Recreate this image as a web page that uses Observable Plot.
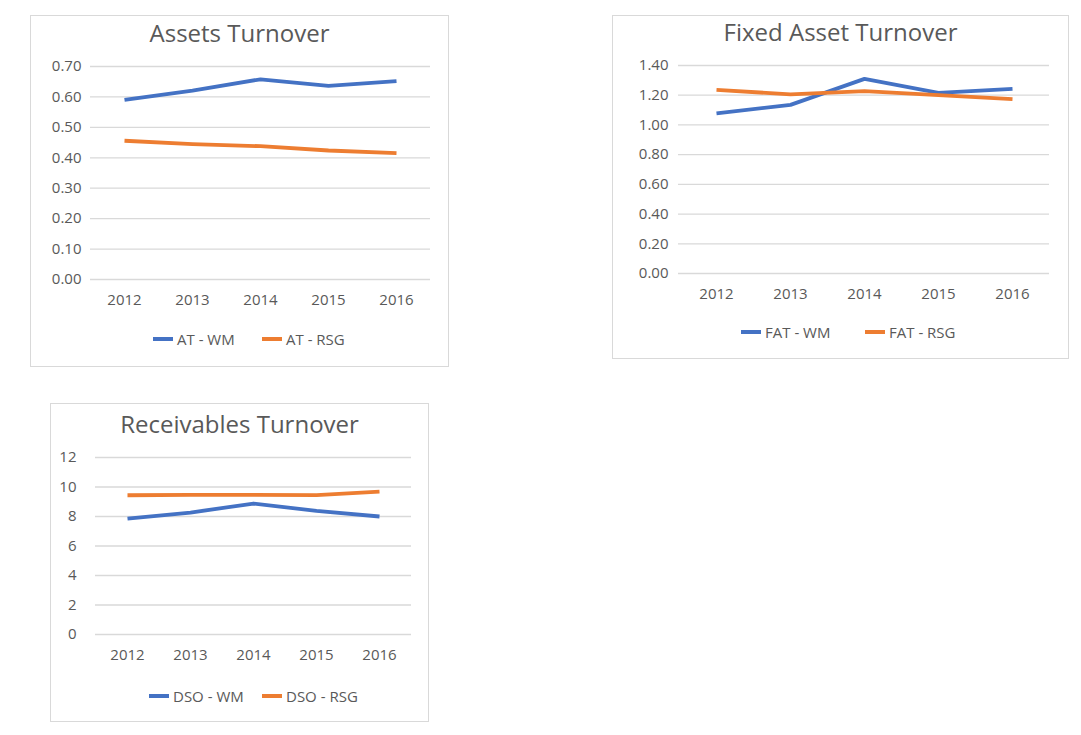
<!DOCTYPE html>
<html>
<head>
<meta charset="utf-8">
<script src="https://cdn.jsdelivr.net/npm/d3@7"></script>
<script src="https://cdn.jsdelivr.net/npm/@observablehq/plot@0.6"></script>
<style>
  html, body { margin: 0; padding: 0; background: #fff; }
  #page { position: relative; width: 1081px; height: 735px; font-family: "Open Sans", "Noto Sans", sans-serif; color: #595959; }
  .panel { position: absolute; box-sizing: border-box; border: 1px solid #d9d9d9; background: #fff; }
  .title { text-align: center; font-size: 24px; white-space: nowrap; }
  .legend { position: relative; font-size: 15px; }
  .item { position: absolute; top: 50%; transform: translateY(-50%); display: flex; align-items: center; white-space: nowrap; }
  .swatch { display: inline-block; width: 20px; height: 4px; margin-right: 4px; }
  svg { display: block; }
</style>
</head>
<body>
<div id="page"></div>
<script>
const years = ["2012", "2013", "2014", "2015", "2016"];

const atWM  = [0.590, 0.621, 0.658, 0.636, 0.652];
const atRSG = [0.456, 0.445, 0.438, 0.424, 0.415];
const atTicks = [0, 0.1, 0.2, 0.3, 0.4, 0.5, 0.6, 0.7];

const fatWM  = [1.078, 1.135, 1.310, 1.216, 1.243];
const fatRSG = [1.236, 1.206, 1.227, 1.200, 1.173];
const fatTicks = [0, 0.2, 0.4, 0.6, 0.8, 1.0, 1.2, 1.4];

const dsoWM  = [7.86, 8.27, 8.88, 8.38, 8.00];
const dsoRSG = [9.44, 9.47, 9.47, 9.45, 9.69];
const dsoTicks = [0, 2, 4, 6, 8, 10, 12];

const BLUE = "#4472C4", ORANGE = "#ED7D31";

function panel(cfg) {
  const p = document.createElement("div");
  p.className = "panel";
  Object.assign(p.style, {left: cfg.left + "px", top: cfg.top + "px", width: cfg.w + "px", height: cfg.h + "px"});

  const t = document.createElement("div");
  t.className = "title";
  t.textContent = cfg.title;
  t.style.height = cfg.titleH + "px";
  t.style.lineHeight = cfg.titleH + "px";
  p.appendChild(t);

  const rows = [];
  years.forEach((y, i) => {
    rows.push({year: y, value: cfg.wm[i], series: cfg.names[0]});
  });
  years.forEach((y, i) => {
    rows.push({year: y, value: cfg.rsg[i], series: cfg.names[1]});
  });

  const chart = Plot.plot({
    width: cfg.w - 2,
    height: cfg.svgH,
    marginLeft: cfg.ml,
    marginRight: cfg.mr,
    marginTop: cfg.mt,
    marginBottom: cfg.mb,
    style: {fontFamily: "'Open Sans', 'Noto Sans', sans-serif", fontSize: "15px", color: "#595959", background: "transparent"},
    x: {type: "point", domain: years, padding: 0.5, tickSize: 0, tickPadding: 15, label: null},
    y: {domain: cfg.domain, ticks: cfg.ticks, tickSize: 0, tickPadding: cfg.yPad, tickFormat: d3.format(cfg.fmt), label: null},
    marks: [
      Plot.ruleY(cfg.ticks, {stroke: "#d9d9d9", strokeWidth: 1.3}),
      Plot.line(rows, {x: "year", y: "value", z: "series", stroke: d => d.series === cfg.names[0] ? BLUE : ORANGE, strokeWidth: 3.8, strokeLinejoin: "round", strokeLinecap: "butt"})
    ]
  });
  p.appendChild(chart);

  const lg = document.createElement("div");
  lg.className = "legend";
  lg.style.height = cfg.legH + "px";
  cfg.names.forEach((n, k) => {
    const it = document.createElement("div");
    it.className = "item";
    it.style.left = cfg.legX[k] + "px";
    const sw = document.createElement("span");
    sw.className = "swatch";
    sw.style.background = k === 0 ? BLUE : ORANGE;
    it.appendChild(sw);
    const tx = document.createElement("span");
    tx.textContent = n;
    it.appendChild(tx);
    lg.appendChild(it);
  });
  p.appendChild(lg);
  document.getElementById("page").appendChild(p);
}

panel({left: 30, top: 15, w: 419, h: 352, title: "Assets Turnover", titleH: 34,
  svgH: 265, ml: 59, mr: 18, mt: 16, mb: 36, yPad: 9,
  domain: [0, 0.7], ticks: atTicks, fmt: ".2f",
  wm: atWM, rsg: atRSG, names: ["AT - WM", "AT - RSG"], legH: 48, legX: [122, 231]});

panel({left: 612, top: 15, w: 457, h: 344, title: "Fixed Asset Turnover", titleH: 32,
  svgH: 261, ml: 65, mr: 19, mt: 17, mb: 36, yPad: 10,
  domain: [0, 1.4], ticks: fatTicks, fmt: ".2f",
  wm: fatWM, rsg: fatRSG, names: ["FAT - WM", "FAT - RSG"], legH: 45, legX: [128, 252]});

panel({left: 50, top: 403, w: 379, h: 319, title: "Receivables Turnover", titleH: 40,
  svgH: 226, ml: 44, mr: 17, mt: 13, mb: 36, yPad: 19,
  domain: [0, 12], ticks: dsoTicks, fmt: "d",
  wm: dsoWM, rsg: dsoRSG, names: ["DSO - WM", "DSO - RSG"], legH: 51, legX: [98, 211]});
</script>
</body>
</html>
